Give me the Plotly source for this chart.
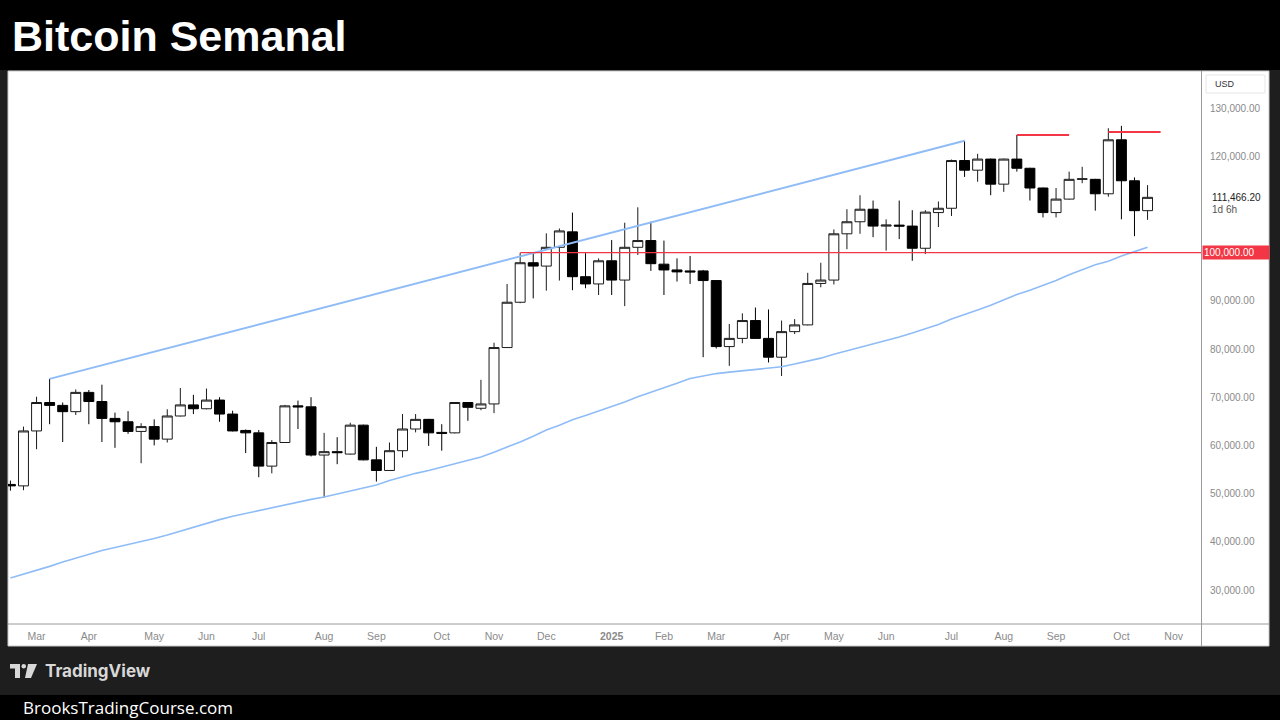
import pandas as pd
import plotly.graph_objects as go

# ---------------- data (USD thousands, weekly candles, week starting Monday) ----------------
first_week = "2024-02-19"
n_weeks = 88
weeks = pd.date_range(first_week, periods=n_weeks, freq="7D")

open_k = [51.9, 51.6, 63.0, 68.9, 68.3, 67.0, 71.0, 69.1, 65.6, 64.9,
          62.9, 63.9, 61.3, 66.1, 68.4, 67.6, 69.4, 66.5, 63.1, 62.6,
          55.7, 60.6, 68.2, 68.0, 58.0, 58.7, 58.2, 64.2, 57.0, 54.8,
          58.9, 63.4, 65.4, 62.7, 62.6, 68.9, 67.7, 68.6, 80.3, 89.7,
          97.9, 97.2, 101.1, 104.3, 95.0, 93.5, 98.3, 94.3, 101.1, 102.5,
          97.6, 96.4, 96.2, 96.2, 94.2, 80.5, 82.2, 85.9, 82.2, 78.3,
          83.6, 85.0, 93.6, 94.3, 103.9, 106.4, 109.0, 105.5, 105.7, 105.5,
          100.9, 108.3, 109.2, 119.1, 117.1, 119.4, 114.2, 119.4, 117.5, 113.4,
          108.3, 111.1, 115.2, 115.2, 112.2, 123.4, 114.9, 108.7]
high_k = [52.7, 63.9, 70.1, 73.8, 68.9, 71.6, 71.5, 72.6, 66.8, 67.1,
          64.6, 65.4, 67.5, 71.9, 70.5, 71.8, 70.0, 67.2, 63.3, 63.2,
          61.1, 68.4, 69.3, 70.0, 62.6, 61.7, 64.7, 64.3, 59.7, 60.6,
          66.5, 66.5, 65.5, 64.4, 69.0, 69.0, 73.6, 81.3, 93.5, 99.9,
          99.9, 104.0, 105.0, 108.3, 99.9, 98.8, 102.6, 106.2, 109.4, 106.4,
          102.5, 98.8, 99.3, 96.4, 94.3, 85.2, 87.4, 88.6, 88.2, 85.9,
          86.2, 95.8, 97.9, 104.8, 109.0, 111.9, 110.8, 106.9, 110.8, 108.8,
          108.8, 110.6, 119.3, 123.2, 120.5, 119.5, 119.5, 124.4, 117.6, 113.5,
          113.4, 116.8, 117.8, 115.3, 125.8, 126.3, 115.6, 114.0]
low_k = [50.6, 50.7, 59.2, 64.4, 60.7, 66.3, 64.4, 60.7, 59.5, 62.4,
         56.3, 60.0, 60.6, 66.0, 66.5, 67.5, 64.9, 62.9, 58.4, 53.4,
         54.2, 60.5, 63.4, 57.7, 49.2, 56.1, 58.1, 56.9, 52.5, 54.7,
         57.5, 62.7, 59.9, 58.9, 62.5, 65.1, 67.3, 66.7, 80.2, 89.5,
         90.5, 92.1, 94.2, 92.2, 92.6, 91.2, 91.2, 88.9, 99.5, 96.2,
         91.2, 94.0, 93.5, 78.3, 80.1, 76.5, 81.2, 82.1, 77.2, 74.4,
         83.1, 84.9, 92.8, 93.4, 100.7, 103.9, 103.2, 100.4, 102.8, 98.3,
         99.7, 105.3, 107.6, 115.7, 114.7, 111.9, 112.6, 116.8, 110.8, 107.3,
         107.3, 111.0, 114.4, 108.7, 111.6, 106.9, 103.4, 106.8]
close_k = [51.6, 63.0, 68.9, 68.3, 67.0, 71.0, 69.1, 65.6, 64.9, 62.9,
           63.9, 61.3, 66.1, 68.4, 67.6, 69.4, 66.5, 63.0, 62.6, 55.7,
           60.6, 68.2, 68.0, 58.0, 58.7, 58.5, 64.2, 57.0, 54.8, 58.9,
           63.4, 65.4, 62.6, 62.5, 68.9, 67.9, 68.6, 80.3, 89.7, 97.9,
           97.2, 101.1, 104.5, 95.0, 93.5, 98.3, 94.3, 101.1, 102.5, 97.7,
           96.4, 96.0, 96.0, 94.2, 80.5, 82.2, 85.9, 82.2, 78.3, 83.6,
           85.0, 93.6, 94.3, 103.9, 106.4, 109.0, 105.5, 105.7, 105.5, 100.9,
           108.4, 109.2, 119.1, 117.1, 119.4, 114.2, 119.4, 117.5, 113.4, 108.3,
           111.1, 115.2, 115.3, 112.2, 123.4, 114.9, 108.7, 111.4662]
# moving average (light blue curve)
ma_k = [32.5, 33.3, 34.0, 34.9, 35.8, 36.6, 37.4, 38.2, 38.8, 39.4,
        40.1, 40.7, 41.4, 42.2, 43.1, 43.8, 44.6, 45.3, 45.9, 46.4,
        47.0, 47.6, 48.2, 48.8, 49.3, 49.9, 50.6, 51.2, 51.8, 52.7,
        53.5, 54.2, 54.8, 55.5, 56.1, 56.9, 57.6, 58.6, 59.6, 60.7,
        61.9, 63.2, 64.2, 65.3, 66.2, 67.1, 68.0, 69.0, 70.1, 71.0,
        71.9, 72.9, 73.9, 74.4, 74.9, 75.2, 75.5, 75.8, 76.0, 76.3,
        76.9, 77.5, 78.1, 78.9, 79.6, 80.3, 81.0, 81.7, 82.5, 83.3,
        84.2, 85.1, 86.2, 87.1, 88.1, 89.1, 90.2, 91.3, 92.2, 93.2,
        94.2, 95.4, 96.5, 97.5, 98.2, 99.3, 100.2, 101.1]

# trendline through highs
trend_dates = ["2024-03-11", "2025-07-14"]
trend_k = [73.8, 123.2]
# red horizontal levels
support_dates = ["2024-11-18", "2025-11-20"]
support_k = 100.0
level1_dates = ["2025-08-11", "2025-09-08"]
level1_k = 124.4
level2_dates = ["2025-09-29", "2025-10-27"]
level2_k = 125.0

last_price = 111466.20
time_left = "1d 6h"

month_tick_dates = ["2024-03-04", "2024-04-01", "2024-05-06", "2024-06-03", "2024-07-01",
                    "2024-08-05", "2024-09-02", "2024-10-07", "2024-11-04", "2024-12-02",
                    "2025-01-06", "2025-02-03", "2025-03-03", "2025-04-07", "2025-05-05",
                    "2025-06-02", "2025-07-07", "2025-08-04", "2025-09-01", "2025-10-06",
                    "2025-11-03"]
month_tick_text = ["Mar", "Apr", "May", "Jun", "Jul", "Aug", "Sep", "Oct", "Nov", "Dec",
                   "<b>2025</b>", "Feb", "Mar", "Apr", "May", "Jun", "Jul", "Aug", "Sep", "Oct",
                   "Nov"]
price_ticks = [30000, 40000, 50000, 60000, 70000, 80000, 90000, 120000, 130000]

x_range = ["2024-02-17 17:00", "2025-11-17 15:00"]
y_range = [22945, 137676]

k = lambda arr: [v * 1000 for v in arr]

# ---------------- layout geometry (pixels) ----------------
L, R, T, B = 8, 1201, 71, 624
def px(x):
    return (x - L) / (R - L)
def py(y):
    return (B - y) / (B - T)

BLUE = "#8fbcf7"
RED = "#f23645"

fig = go.Figure()

fig.add_trace(go.Scatter(x=weeks, y=k(ma_k), mode="lines",
                         line=dict(color=BLUE, width=1.6), hoverinfo="skip"))
fig.add_trace(go.Scatter(x=trend_dates, y=k(trend_k), mode="lines",
                         line=dict(color=BLUE, width=2), hoverinfo="skip"))

fig.add_trace(go.Candlestick(
    x=weeks, open=k(open_k), high=k(high_k), low=k(low_k), close=k(close_k),
    increasing=dict(fillcolor="#ffffff", line=dict(color="#1a1a1a", width=1)),
    decreasing=dict(fillcolor="#000000", line=dict(color="#000000", width=1)),
    whiskerwidth=0,
))

fig.add_trace(go.Scatter(x=support_dates, y=[support_k * 1000] * 2, mode="lines",
                         line=dict(color=RED, width=1.3), hoverinfo="skip"))
fig.add_trace(go.Scatter(x=level1_dates, y=[level1_k * 1000] * 2, mode="lines",
                         line=dict(color=RED, width=2), hoverinfo="skip"))
fig.add_trace(go.Scatter(x=level2_dates, y=[level2_k * 1000] * 2, mode="lines",
                         line=dict(color=RED, width=2), hoverinfo="skip"))

shapes = [
    # header band
    dict(type="rect", xref="paper", yref="paper", x0=px(-5), x1=px(1290), y0=py(70), y1=py(-5),
         fillcolor="#000000", line=dict(width=0), layer="below"),
    # footer band
    dict(type="rect", xref="paper", yref="paper", x0=px(-5), x1=px(1290), y0=py(725), y1=py(695),
         fillcolor="#000000", line=dict(width=0), layer="below"),
    # white chart panel
    dict(type="rect", xref="paper", yref="paper", x0=px(8), x1=px(1269), y0=py(646), y1=py(71),
         fillcolor="#ffffff", line=dict(color="#c8c8c8", width=1), layer="below"),
    # price-scale separator
    dict(type="line", xref="paper", yref="paper", x0=px(1201.5), x1=px(1201.5), y0=py(646), y1=py(71),
         line=dict(color="#9a9a9a", width=1)),
    # time-scale separator
    dict(type="line", xref="paper", yref="paper", x0=px(8), x1=px(1269), y0=py(624), y1=py(624),
         line=dict(color="#9a9a9a", width=1)),
    # TradingView logo mark
    dict(type="rect", xref="paper", yref="paper", x0=px(10), x1=px(20), y0=py(668.5), y1=py(664),
         fillcolor="#d8d8d8", line=dict(width=0)),
    dict(type="rect", xref="paper", yref="paper", x0=px(15), x1=px(20), y0=py(678), y1=py(664),
         fillcolor="#d8d8d8", line=dict(width=0)),
    dict(type="circle", xref="paper", yref="paper", x0=px(21.5), x1=px(26), y0=py(668.5), y1=py(664),
         fillcolor="#d8d8d8", line=dict(width=0)),
    dict(type="path", xref="paper", yref="paper",
         path=f"M {px(28)},{py(664)} L {px(37)},{py(664)} L {px(31)},{py(678)} L {px(25)},{py(678)} Z",
         fillcolor="#d8d8d8", line=dict(width=0)),
    # USD box
    dict(type="rect", xref="paper", yref="paper", x0=px(1206), x1=px(1265), y0=py(93), y1=py(75),
         fillcolor="rgba(0,0,0,0)", line=dict(color="#e6e6e6", width=1)),
]

annotations = [
    dict(text="<b>Bitcoin Semanal</b>", xref="paper", yref="paper", x=px(10), y=py(36),
         xanchor="left", yanchor="middle", showarrow=False,
         font=dict(family="Liberation Sans, Arial, sans-serif", size=43, color="#ffffff")),
    dict(text="BrooksTradingCourse.com", xref="paper", yref="paper", x=px(21), y=py(707),
         xanchor="left", yanchor="middle", showarrow=False,
         font=dict(family="Open Sans, sans-serif", size=17, color="#ffffff")),
    dict(text="<b>TradingView</b>", xref="paper", yref="paper", x=px(43), y=py(671),
         xanchor="left", yanchor="middle", showarrow=False,
         font=dict(family="Inter, sans-serif", size=17, color="#d8d8d8")),
    dict(text="USD", xref="paper", yref="paper", x=px(1213), y=py(84),
         xanchor="left", yanchor="middle", showarrow=False,
         font=dict(family="Liberation Sans, Arial, sans-serif", size=9, color="#333333")),
    dict(text=f"{last_price:,.2f}", xref="paper", yref="y", x=px(1210), y=last_price,
         xanchor="left", yanchor="middle", showarrow=False,
         font=dict(family="Liberation Sans, Arial, sans-serif", size=10, color="#222222")),
    dict(text=time_left, xref="paper", yref="y", x=px(1210), y=last_price, yshift=-12,
         xanchor="left", yanchor="middle", showarrow=False,
         font=dict(family="Liberation Sans, Arial, sans-serif", size=10, color="#555555")),
    dict(text=f"{support_k * 1000:,.2f}  ", xref="paper", yref="y", x=px(1202), y=support_k * 1000,
         xanchor="left", yanchor="middle", showarrow=False, bgcolor=RED, borderpad=1,
         width=64, align="left",
         font=dict(family="Liberation Sans, Arial, sans-serif", size=10, color="#ffffff")),
]

fig.update_layout(
    template="none",
    width=1280, height=720, autosize=False,
    margin=dict(l=L, r=1280 - R, t=T, b=720 - B, pad=0),
    paper_bgcolor="#1e1e1e",
    plot_bgcolor="#ffffff",
    showlegend=False,
    boxgap=0.24,
    boxgroupgap=0,
    shapes=shapes,
    annotations=annotations,
    xaxis=dict(type="date", range=x_range, tickvals=month_tick_dates, ticktext=month_tick_text,
               showgrid=False, zeroline=False, showline=False, ticks="", automargin=False,
               rangeslider=dict(visible=False), ticklabelstandoff=4,
               tickfont=dict(family="Liberation Sans, Arial, sans-serif", size=10.5, color="#8a8a8a")),
    yaxis=dict(side="right", range=y_range, tickvals=price_ticks, tickformat=",.2f",
               showgrid=False, zeroline=False, showline=False, ticks="", automargin=False,
               ticklabelstandoff=8,
               tickfont=dict(family="Liberation Sans, Arial, sans-serif", size=10, color="#8a8a8a")),
)

fig.write_html("out.html", post_script="document.body.style.margin='0';")
